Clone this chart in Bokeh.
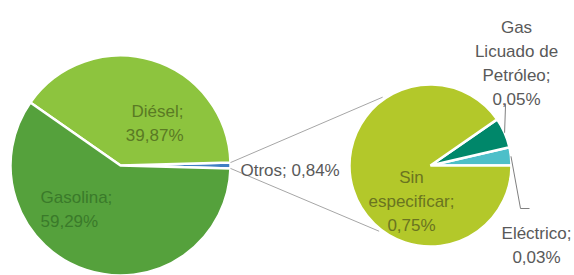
import numpy as np
from bokeh.plotting import figure
from bokeh.models import Range1d
from bokeh.core.properties import value
from bokeh.embed import file_html
from bokeh.resources import INLINE

# ---- data ----
main_labels = ["Otros", "Diésel", "Gasolina"]
main_values = [0.84, 39.87, 59.29]
main_colors = ["#3F7FC4", "#8DC43E", "#55A13C"]

sub_labels = ["Eléctrico", "Gas Licuado de Petróleo", "Sin especificar"]
sub_values = [0.03, 0.05, 0.75]
sub_colors = ["#4DBFC9", "#00876A", "#B3C82A"]

name_wrap = {
    "Gas Licuado de Petróleo": ["Gas", "Licuado de", "Petróleo"],
    "Sin especificar": ["Sin", "especificar"],
}

# ---- layout (screenshot pixel coordinates) ----
W, H = 574, 275
IMG_H = 275
X0, Y0 = 0, 0   # screenshot coordinate of the plot's top-left corner


def fy(yi):
    return IMG_H - yi


LC = (120, 165)
LR = 110
RC = (430, 165)
RR = 81
FONT = value("Liberation Sans")
FSIZE = "17px"
LINE_SP = 24

# label anchor: x, first baseline y, align, colour, single line?
label_layout = {
    "Diésel": (183, 111, "right", "#5A7A24", False),
    "Gasolina": (40, 197, "left", "#3A7A2A", False),
    "Otros": (240, 170, "left", "#595959", True),
    "Sin especificar": (411, 177, "center", "#6A7420", False),
    "Gas Licuado de Petróleo": (516, 27, "center", "#595959", False),
    "Eléctrico": (536, 233, "center", "#595959", False),
}

p = figure(width=W, height=H, output_backend="svg", toolbar_location=None,
           x_range=Range1d(X0, X0 + W), y_range=Range1d(fy(Y0 + H), fy(Y0)),
           min_border=0, match_aspect=False)
p.axis.visible = False
p.grid.visible = False
p.outline_line_color = None
p.background_fill_color = "white"
p.border_fill_color = "white"

two_pi = 2 * np.pi

# left pie
mv = np.array(main_values)
mfrac = mv / mv.sum()
m_start0 = -mfrac[0] * np.pi
m_ends = m_start0 + np.cumsum(mfrac) * two_pi
m_starts = np.concatenate([[m_start0], m_ends[:-1]])
p.wedge(x=[LC[0]] * 3, y=[fy(LC[1])] * 3, radius=LR,
        start_angle=list(m_starts), end_angle=list(m_ends),
        fill_color=main_colors, line_color="white", line_width=2.5)

# right pie
sv = np.array(sub_values)
sfrac = sv / sv.sum()
s_ends = np.cumsum(sfrac) * two_pi
s_starts = np.concatenate([[0.0], s_ends[:-1]])
p.wedge(x=[RC[0]] * 3, y=[fy(RC[1])] * 3, radius=RR,
        start_angle=list(s_starts), end_angle=list(s_ends),
        fill_color=sub_colors, line_color="white", line_width=2.5)

# connector lines
a_top, a_bot = m_ends[0], m_starts[0]
r_top, r_bot = np.deg2rad(125), np.deg2rad(232)
for a, b in [(a_top, r_top), (a_bot, r_bot)]:
    x0 = LC[0] + LR * np.cos(a)
    y0 = fy(LC[1]) + LR * np.sin(a)
    x1 = RC[0] + RR * 1.03 * np.cos(b)
    y1 = fy(RC[1]) + RR * 1.03 * np.sin(b)
    p.line([x0, x1], [y0, y1], line_color="#A6A6A6", line_width=1)

# leader lines
mid_glp = (s_starts[1] + s_ends[1]) / 2
gx = RC[0] + RR * np.cos(mid_glp)
gy = fy(RC[1]) + RR * np.sin(mid_glp)
p.line([gx, gx + 1], [gy, fy(103)], line_color="#7F7F7F", line_width=1)
mid_el = (s_starts[0] + s_ends[0]) / 2
ex = RC[0] + RR * np.cos(mid_el)
ey = fy(RC[1]) + RR * np.sin(mid_el)
p.line([ex, 520, 529], [ey, fy(208), fy(208)], line_color="#7F7F7F", line_width=1)


def pct(v):
    return f"{v:.2f}".replace(".", ",") + "%"


all_labels = main_labels + sub_labels
all_values = main_values + sub_values
for name, v in zip(all_labels, all_values):
    x, yb, align, col, single = label_layout[name]
    if single:
        lines = [f"{name}; {pct(v)}"]
    else:
        parts = name_wrap.get(name, [name])
        lines = parts[:-1] + [parts[-1] + ";", pct(v)]
    ys = [fy(yb + i * LINE_SP) for i in range(len(lines))]
    p.text(x=[x] * len(lines), y=ys, text=lines, text_align=align,
           text_baseline="alphabetic", text_font=FONT, text_font_size=FSIZE,
           text_color=col)

open("out.html", "w").write(file_html(p, INLINE))
